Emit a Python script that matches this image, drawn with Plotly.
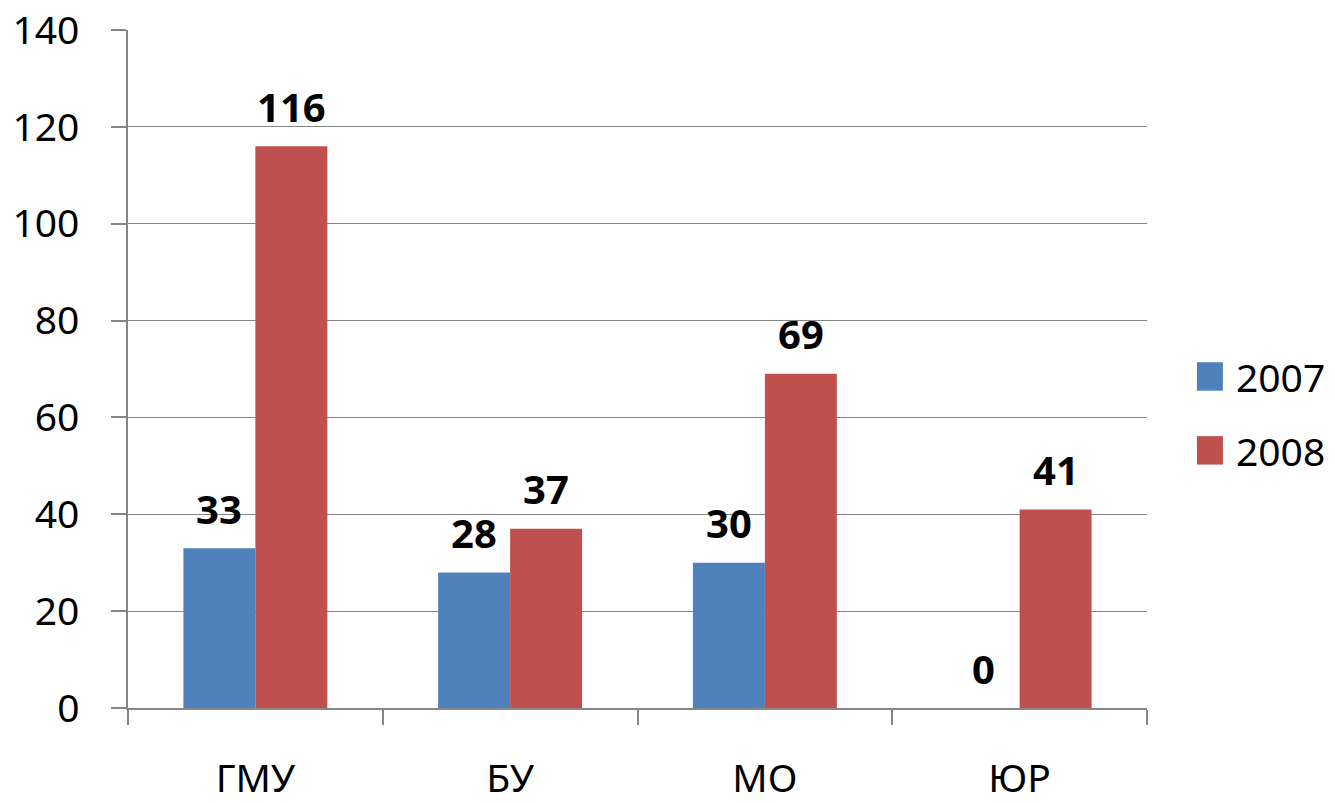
import plotly.graph_objects as go

categories = ["ГМУ", "БУ", "МО", "ЮР"]
series_names = ["2007", "2008"]
values_2007 = [33, 28, 30, 0]
values_2008 = [116, 37, 69, 41]
colors = ["#4F81BD", "#C0504D"]
y_ticks = [0, 20, 40, 60, 80, 100, 120, 140]

FONT = "Noto Sans, Open Sans, sans-serif"
W, H = 1335, 803
ML, MR, MT, MB = 128, 188, 30, 95
BARGAP = 0.435

plot_w = W - ML - MR
cat_w = plot_w / len(categories)
bar_w = cat_w * (1 - BARGAP) / 2

fig = go.Figure()
all_series = [values_2007, values_2008]
for i, (name, vals, col) in enumerate(zip(series_names, all_series, colors)):
    fig.add_trace(go.Bar(
        x=categories, y=vals, name=name,
        marker=dict(color=col, line=dict(width=0)),
        showlegend=False,
    ))
    offset = (i - 0.5) * bar_w
    for c, v in zip(categories, vals):
        fig.add_annotation(x=c, y=v, xref="x", yref="y", text=f"<b>{v}</b>",
                           showarrow=False, xshift=offset, yshift=40,
                           xanchor="center", yanchor="middle",
                           font=dict(family=FONT, size=40, color="black"))

# custom legend (larger swatches, like the reference)
leg_y = [0.489, 0.380]
for name, col, yy in zip(series_names, colors, leg_y):
    fig.add_shape(type="rect", xref="paper", yref="paper",
                  x0=1.049, x1=1.0745, y0=yy - 0.021, y1=yy + 0.021,
                  fillcolor=col, line=dict(width=0))
    fig.add_annotation(xref="paper", yref="paper", x=1.085, y=yy,
                       text=name, showarrow=False, xanchor="left", yanchor="middle",
                       font=dict(family=FONT, size=39, color="black"))

fig.update_layout(
    width=W, height=H,
    margin=dict(l=ML, r=MR, t=MT, b=MB, autoexpand=False),
    paper_bgcolor="white", plot_bgcolor="white",
    barmode="group", bargap=BARGAP, bargroupgap=0,
    font=dict(family=FONT, size=39, color="black"),
)
fig.update_xaxes(
    type="category", automargin=False,
    showline=True, linecolor="#868686", linewidth=1.5,
    ticks="outside", tickson="boundaries", ticklen=15, tickcolor="#868686", tickwidth=1.5,
    tickfont=dict(family=FONT, size=39, color="black"),
    ticklabelstandoff=35,
    showgrid=False, zeroline=False,
)
fig.update_yaxes(
    range=[0, 140], tickvals=y_ticks, automargin=False,
    showline=True, linecolor="#868686", linewidth=1.5,
    ticks="outside", ticklen=15, tickcolor="#868686", tickwidth=1.5,
    tickfont=dict(family=FONT, size=39, color="black"),
    ticklabelstandoff=24,
    showgrid=True, gridcolor="#868686", gridwidth=1.2,
    zeroline=False,
)

fig.write_html(
    "out.html",
    config={"displayModeBar": False},
    post_script="document.body.style.margin='0';document.body.style.overflow='hidden';",
)
